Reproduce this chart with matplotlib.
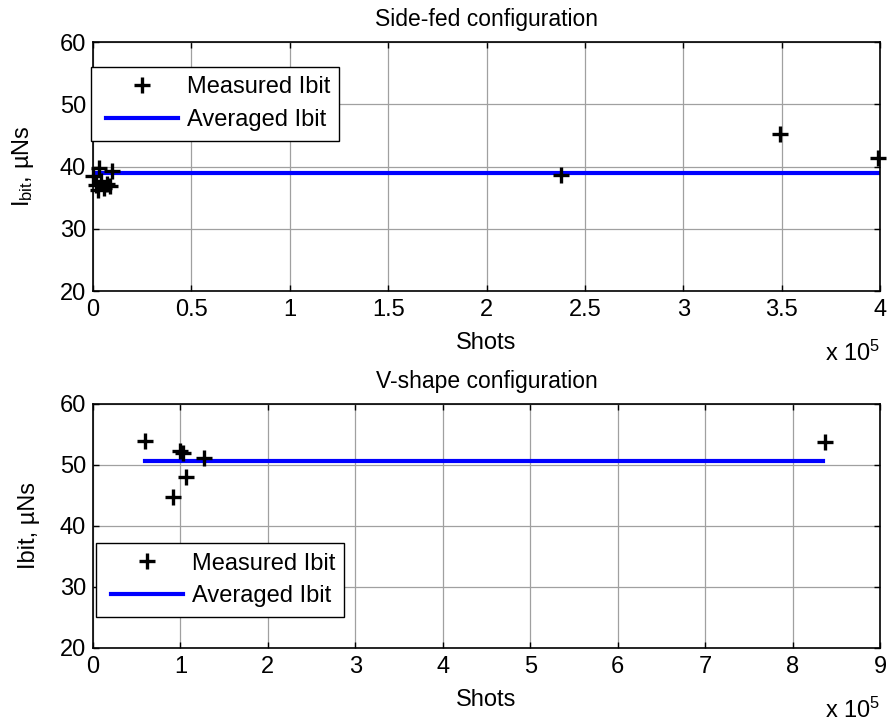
import matplotlib.pyplot as plt
from matplotlib.lines import Line2D
from matplotlib.legend_handler import HandlerLine2D
from matplotlib.ticker import FuncFormatter

plt.rcParams['font.family'] = ['Liberation Sans', 'DejaVu Sans']
plt.rcParams['mathtext.fontset'] = 'custom'
plt.rcParams['mathtext.rm'] = 'Liberation Sans'
plt.rcParams['mathtext.it'] = 'Liberation Sans:italic'

FS = 17

# side-fed thruster
side_shots = [0, 1500, 2500, 4000, 5500, 7000, 8500, 9500, 3000, 238000, 349000, 399000]
side_ibit = [38.5, 37.0, 36.2, 37.6, 36.6, 37.2, 36.8, 39.2, 39.8, 38.7, 45.2, 41.3]
side_avg = 38.9
side_avg_span = [0, 399000]

# V-shape thruster
vshape_shots = [60000, 100000, 103000, 127000, 106000, 92000, 837000]
vshape_ibit = [54.0, 52.3, 51.9, 51.1, 48.0, 44.7, 53.7]
vshape_avg = 50.7
vshape_avg_span = [60000, 835000]


def style_axes(ax, xmax, xticks):
    ax.set_xlim(0, xmax)
    ax.set_ylim(20, 60)
    ax.set_xticks(xticks)
    ax.set_yticks([20, 30, 40, 50, 60])
    ax.xaxis.set_major_formatter(FuncFormatter(lambda v, p: ('%g' % (v / 1e5))))
    ax.tick_params(direction='in', top=True, right=True, labelsize=FS, length=4, width=1)
    ax.tick_params(axis='x', pad=6)
    ax.tick_params(axis='y', pad=5)
    ax.grid(True, color='#a0a0a0', lw=0.9)
    ax.set_axisbelow(True)
    for s in ax.spines.values():
        s.set_linewidth(1.2)
    ax.annotate(r'x 10$^5$', xy=(1.0, 0.0), xycoords='axes fraction', xytext=(0, -70),
                textcoords='offset pixels', ha='right', va='baseline', fontsize=FS)


def panel(ax, shots, ibit, avg, span, title, ylabel, ylabel_x, xmax, xticks, legend_box):
    h = ax.get_window_extent().height
    ax.plot(shots, ibit, '+', color='black', ms=12, mew=2.4, label='Measured Ibit', clip_on=False, zorder=3)
    ax.plot(span, [avg, avg], color='blue', lw=3, label='Averaged Ibit', zorder=2)
    style_axes(ax, xmax, xticks)
    ax.annotate(title, xy=(0.5, 1.0), xycoords='axes fraction', xytext=(0, 16),
                textcoords='offset pixels', ha='center', va='baseline', fontsize=16.5)
    ax.set_xlabel('Shots', fontsize=FS)
    ax.xaxis.set_label_coords(0.5, -41 / h)
    ax.set_ylabel(ylabel, fontsize=FS)
    ax.yaxis.set_label_coords(ylabel_x, 0.5)
    pad = HandlerLine2D(xpad=0.25)
    leg = ax.legend(loc='upper left', bbox_to_anchor=legend_box, fontsize=FS, fancybox=False,
                    edgecolor='black', framealpha=1, borderpad=0.4, handlelength=3.3,
                    handletextpad=0.35, labelspacing=0.45, borderaxespad=0,
                    handler_map={Line2D: pad})
    leg.get_frame().set_linewidth(1.0)


def main():
    fig = plt.figure(figsize=(8.91, 7.27), dpi=100)
    ax1 = fig.add_axes([0.1044, 0.5997, 0.8833, 0.3425])
    ax2 = fig.add_axes([0.1044, 0.1087, 0.8833, 0.3356])

    panel(ax1, side_shots, side_ibit, side_avg, side_avg_span, 'Side-fed configuration',
          r'I$_{\mathrm{bit}}$, µNs', -0.0724, 400000, [i * 50000 for i in range(9)],
          (-0.0025, 0.8996))
    panel(ax2, vshape_shots, vshape_ibit, vshape_avg, vshape_avg_span, 'V-shape configuration',
          'Ibit, µNs', -0.0673, 900000, [i * 100000 for i in range(10)], (0.0038, 0.43))

    fig.savefig('out.png', dpi=100)


if __name__ == '__main__':
    main()
